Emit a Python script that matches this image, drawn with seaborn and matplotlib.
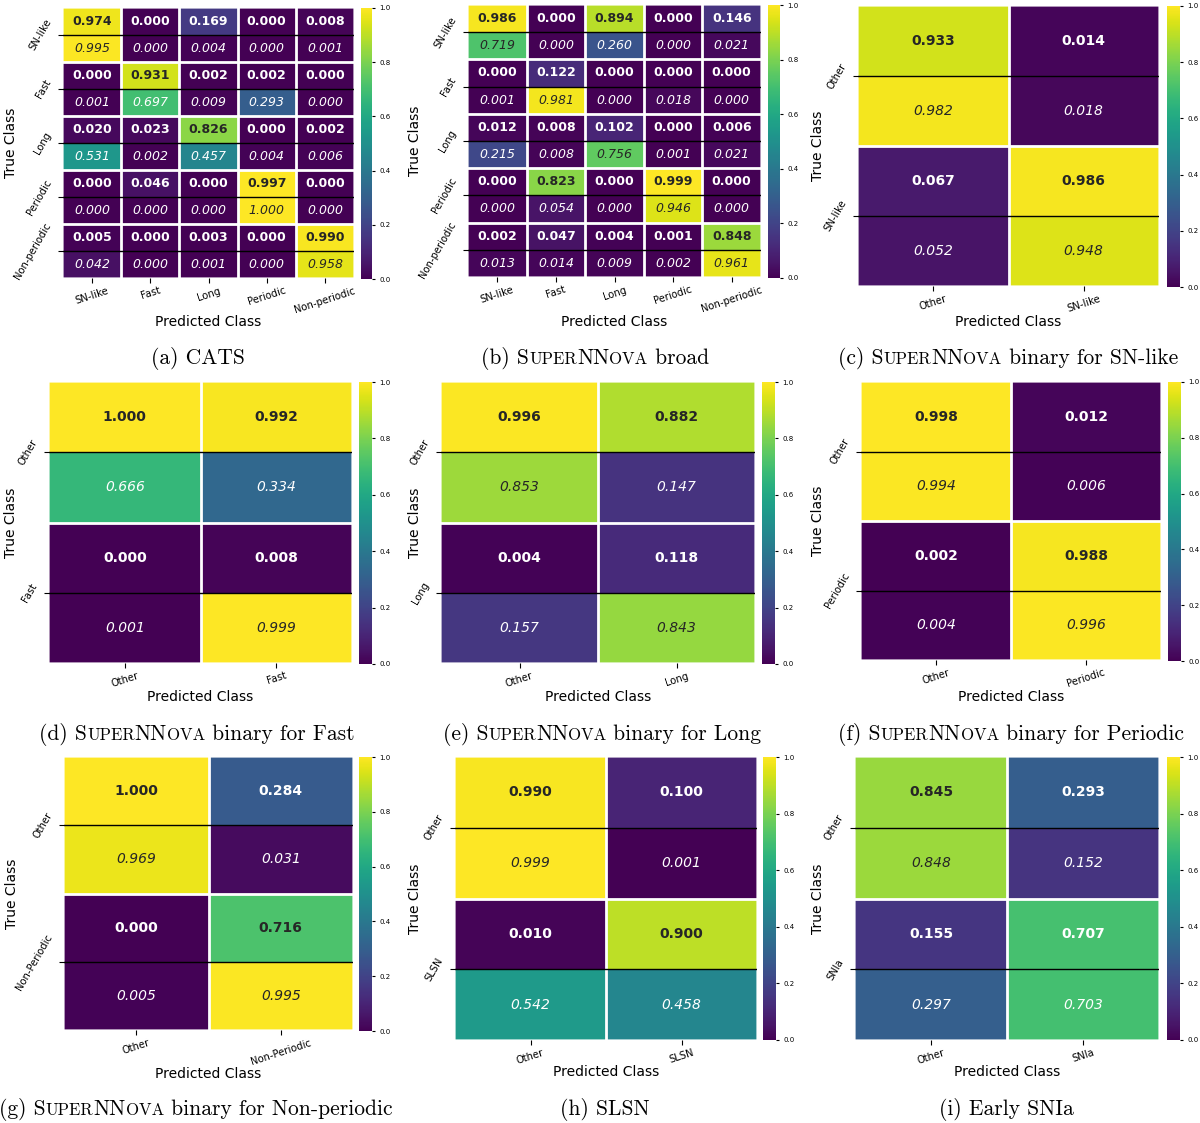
import numpy as np
import seaborn as sns
import matplotlib.pyplot as plt
from matplotlib.transforms import IdentityTransform

# class names
five_classes = ['SN-like', 'Fast', 'Long', 'Periodic', 'Non-periodic']

# (a) CATS: top = bold value, bottom = italic value
cats_top = [[0.974, 0.000, 0.169, 0.000, 0.008],
            [0.000, 0.931, 0.002, 0.002, 0.000],
            [0.020, 0.023, 0.826, 0.000, 0.002],
            [0.000, 0.046, 0.000, 0.997, 0.000],
            [0.005, 0.000, 0.003, 0.000, 0.990]]
cats_bottom = [[0.995, 0.000, 0.004, 0.000, 0.001],
               [0.001, 0.697, 0.009, 0.293, 0.000],
               [0.531, 0.002, 0.457, 0.004, 0.006],
               [0.000, 0.000, 0.000, 1.000, 0.000],
               [0.042, 0.000, 0.001, 0.000, 0.958]]

# (b) SuperNNova broad
broad_top = [[0.986, 0.000, 0.894, 0.000, 0.146],
             [0.000, 0.122, 0.000, 0.000, 0.000],
             [0.012, 0.008, 0.102, 0.000, 0.006],
             [0.000, 0.823, 0.000, 0.999, 0.000],
             [0.002, 0.047, 0.004, 0.001, 0.848]]
broad_bottom = [[0.719, 0.000, 0.260, 0.000, 0.021],
                [0.001, 0.981, 0.000, 0.018, 0.000],
                [0.215, 0.008, 0.756, 0.001, 0.021],
                [0.000, 0.054, 0.000, 0.946, 0.000],
                [0.013, 0.014, 0.009, 0.002, 0.961]]

# binary panels
snlike_classes = ['Other', 'SN-like']
snlike_top = [[0.933, 0.014], [0.067, 0.986]]
snlike_bottom = [[0.982, 0.018], [0.052, 0.948]]

fast_classes = ['Other', 'Fast']
fast_top = [[1.000, 0.992], [0.000, 0.008]]
fast_bottom = [[0.666, 0.334], [0.001, 0.999]]

long_classes = ['Other', 'Long']
long_top = [[0.996, 0.882], [0.004, 0.118]]
long_bottom = [[0.853, 0.147], [0.157, 0.843]]

periodic_classes = ['Other', 'Periodic']
periodic_top = [[0.998, 0.012], [0.002, 0.988]]
periodic_bottom = [[0.994, 0.006], [0.004, 0.996]]

nonper_classes = ['Other', 'Non-Periodic']
nonper_top = [[1.000, 0.284], [0.000, 0.716]]
nonper_bottom = [[0.969, 0.031], [0.005, 0.995]]

slsn_classes = ['Other', 'SLSN']
slsn_top = [[0.990, 0.100], [0.010, 0.900]]
slsn_bottom = [[0.999, 0.001], [0.542, 0.458]]

snia_classes = ['Other', 'SNIa']
snia_top = [[0.845, 0.293], [0.155, 0.707]]
snia_bottom = [[0.848, 0.152], [0.297, 0.703]]

W, H = 1200, 1123
fig = plt.figure(figsize=(W / 100, H / 100), dpi=100)


def box(x0, y0, x1, y1):
    # pixel box (top-left origin) -> figure fraction
    return [x0 / W, 1 - y1 / H, (x1 - x0) / W, (y1 - y0) / H]


def draw_panel(hm_box, cb_box, classes, top, bottom, ylab_x, xlab_y):
    ax = fig.add_axes(box(*hm_box))
    cax = fig.add_axes(box(*cb_box))
    n = len(classes)
    grid = np.empty((2 * n, n))
    grid[0::2] = np.array(top)
    grid[1::2] = np.array(bottom)
    asize = 9 if n > 2 else 10
    sns.heatmap(grid, ax=ax, cbar_ax=cax, cmap='viridis', vmin=0, vmax=1,
                annot=True, fmt='.3f', annot_kws={'size': asize})
    for t in ax.texts:
        row = int(t.get_position()[1])
        if row % 2 == 0:
            t.set_fontweight('bold')
        else:
            t.set_fontstyle('italic')
    # white grid between columns and between true classes, black line inside each class
    for k in range(1, n):
        ax.axvline(k, color='white', lw=2)
        ax.axhline(2 * k, color='white', lw=2)
    ax.axvline(0, color='white', lw=1.2, alpha=0.7)
    ax.axvline(n, color='white', lw=1.2, alpha=0.7)
    ax.axhline(0, color='white', lw=1.2, alpha=0.7)
    ax.axhline(2 * n, color='white', lw=1.2, alpha=0.7)
    for k in range(n):
        ax.axhline(2 * k + 1, color='black', lw=1)
    ax.set_xticks(np.arange(n) + 0.5, classes, rotation=18, fontsize=7.2)
    ax.set_yticks(2 * np.arange(n) + 1, classes, rotation=60, va='center', fontsize=7.2)
    ax.tick_params(axis='x', pad=2)
    ax.set_xlabel('Predicted Class', fontsize=10)
    ax.set_ylabel('True Class', fontsize=10)
    x0, y0, x1, y1 = hm_box
    ax.yaxis.set_label_coords((ylab_x + 7 - x0) / (x1 - x0), 0.5)
    ax.xaxis.set_label_coords(0.5, (y1 - (xlab_y - 7)) / (y1 - y0))
    cax.tick_params(labelsize=5, length=2)
    cax.set_yticks([0, 0.2, 0.4, 0.6, 0.8, 1.0])
    return ax


renderer = fig.canvas.get_renderer()


def caption(xc, ybase_top, parts, fs=15.5):
    # parts: (text, scale) pieces, small caps are drawn with scale < 1
    ybase = H - ybase_top
    texts = []
    x = 0
    for s, sc in parts:
        t = fig.text(x, ybase, s, fontsize=fs * sc, family='cmr10',
                     va='baseline', ha='left', transform=IdentityTransform())
        w = t.get_window_extent(renderer).width
        texts.append((t, x))
        x += w
    x0 = xc - x / 2
    for t, off in texts:
        t.set_x(x0 + off)


def snn(label, rest):
    sc = 0.78
    return [(label + ' S', 1), ('UPER', sc), ('NN', 1), ('OVA', sc), (rest, 1)]


draw_panel((63, 8, 354, 278), (361, 8, 372, 279), five_classes, cats_top, cats_bottom, 11, 322)
draw_panel((468, 5, 761, 277), (768, 5, 780, 278), five_classes, broad_top, broad_bottom, 415, 322)
draw_panel((858, 6, 1159, 286), (1167, 6, 1180, 287), snlike_classes, snlike_top, snlike_bottom, 818, 322)
draw_panel((49, 382, 352, 663), (359, 382, 372, 664), fast_classes, fast_top, fast_bottom, 11, 697)
draw_panel((441, 382, 755, 663), (762, 382, 775, 664), long_classes, long_top, long_bottom, 415, 697)
draw_panel((861, 382, 1161, 660), (1168, 382, 1181, 661), periodic_classes, periodic_top, periodic_bottom, 818, 697)
draw_panel((64, 757, 353, 1030), (359, 757, 372, 1031), nonper_classes, nonper_top, nonper_bottom, 12, 1074)
draw_panel((455, 757, 757, 1040), (763, 757, 776, 1040), slsn_classes, slsn_top, slsn_bottom, 415, 1072)
draw_panel((855, 757, 1159, 1040), (1167, 757, 1180, 1040), snia_classes, snia_top, snia_bottom, 818, 1072)

caption(198, 364, [('(a) CATS', 1)])
caption(595, 364, snn('(b)', ' broad'))
caption(1008, 364, snn('(c)', ' binary for SN-like'))
caption(197, 740, snn('(d)', ' binary for Fast'))
caption(602, 740, snn('(e)', ' binary for Long'))
caption(1011, 740, snn('(f)', ' binary for Periodic'))
caption(196, 1115, snn('(g)', ' binary for Non-periodic'))
caption(605, 1115, [('(h) SLSN', 1)])
caption(1006, 1115, [('(i) Early SNIa', 1)])

fig.savefig('out.png', dpi=100)
